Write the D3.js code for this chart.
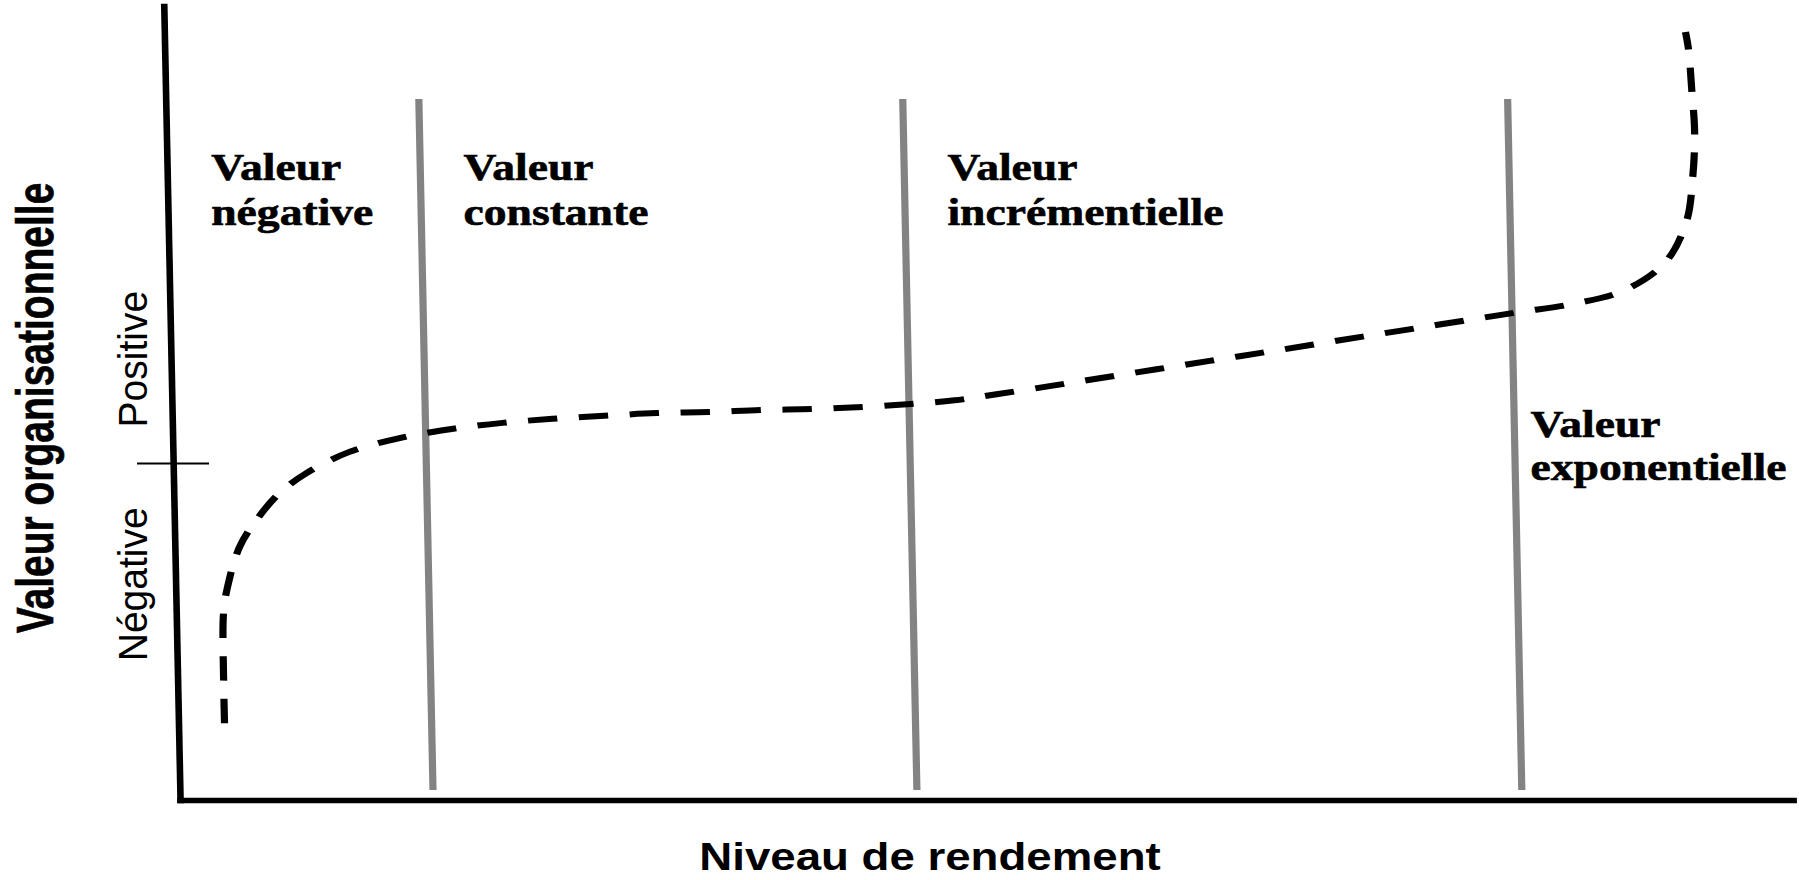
<!DOCTYPE html>
<html>
<head>
<meta charset="utf-8">
<script src="https://cdn.jsdelivr.net/npm/d3@7"></script>
<style>
  body { margin: 0; background: #fff; }
  svg { display: block; }
</style>
</head>
<body>
<div id="chart"></div>
<script>
// Courbe : niveau de rendement (0-100) vs valeur organisationnelle (0 = seuil)
var perf = [2.86, 2.86, 2.94, 3.22, 4.02, 5.10, 6.57, 8.26, 10.95, 14.07, 17.31, 20.48, 23.58, 26.81,
  30.04, 33.27, 36.49, 39.71, 42.88, 45.80, 48.53, 51.14, 54.44, 57.74, 61.09, 64.39, 67.49, 70.67,
  73.91, 77.01, 80.43, 83.67, 86.97, 90.08, 92.72, 94.12, 94.57, 94.75, 94.62, 94.48, 94.31];
var valeur = [-77.2, -64.4, -44.5, -36.8, -24.9, -16.9, -8.9, -3.0, 3.3, 7.4, 10.1, 11.9, 13.1, 14.0,
  14.8, 15.1, 15.7, 16.0, 16.6, 17.5, 18.6, 20.4, 22.8, 25.3, 27.8, 30.3, 32.6, 35.0,
  37.5, 39.8, 42.4, 44.8, 47.2, 51.0, 59.3, 71.5, 84.6, 97.9, 111.3, 122.6, 127.9];

// zones separated by the grey lines
var zoneStarts = [0, 15.7, 45.7, 83.2];
var boundaries = [15.7, 45.7, 83.2];
var zoneNames = [["Valeur", "négative"], ["Valeur", "constante"], ["Valeur", "incrémentielle"], ["Valeur", "exponentielle"]];
var yLabels = ["Négative", "Positive"];

var svgWidth = 1799;
var svgHeight = 880;

// the picture is a bit stretched sideways and leans a little to the right
var stretch = 1.2;
var lean = 0.01708;

var svg = d3.select("#chart")
  .append("svg")
  .attr("width", svgWidth)
  .attr("height", svgHeight);

var xScale = d3.scaleLinear()
  .domain([0, 100])
  .range([136.3, 1480.5]);

var yScale = d3.scaleLinear()
  .domain([-100, 135.6])
  .range([800, 6]);

function pageX(d, y) {
  return stretch * (xScale(d) + lean * y);
}

var plot = svg.append("g")
  .attr("transform", `scale(${stretch},1) skewX(${Math.atan(lean) * 180 / Math.PI})`);

// grey separators
plot.selectAll("line.sep")
  .data(boundaries)
  .enter()
  .append("line")
  .attr("class", "sep")
  .attr("x1", d => xScale(d))
  .attr("x2", d => xScale(d))
  .attr("y1", yScale(108))
  .attr("y2", yScale(-97))
  .attr("stroke", "#838383")
  .attr("stroke-width", 6);

// axes
var bottomAxis = d3.axisBottom(xScale).tickValues([]).tickSizeOuter(0);
var leftAxis = d3.axisLeft(yScale).tickValues([0]).tickSize(30).tickSizeOuter(0).tickFormat("");

var gx = plot.append("g")
  .attr("transform", `translate(0, ${yScale(-100)})`)
  .call(bottomAxis);
gx.select(".domain").attr("stroke", "#000").attr("stroke-width", 5.5).attr("stroke-linecap", "square");

var gy = plot.append("g")
  .attr("transform", `translate(${xScale(0)}, 0)`)
  .call(leftAxis);
gy.select(".domain").attr("stroke", "#000").attr("stroke-width", 5.5).attr("stroke-linecap", "square");
gy.selectAll(".tick line").attr("x1", -30).attr("x2", 30).attr("stroke", "#000").attr("stroke-width", 2);

// dashed curve
var points = perf.map((p, i) => [p, valeur[i]]);
var line = d3.line()
  .x(d => xScale(d[0]))
  .y(d => yScale(d[1]))
  .curve(d3.curveCatmullRom.alpha(0.5));

plot.append("path")
  .datum(points)
  .attr("d", line)
  .attr("fill", "none")
  .attr("stroke", "#000")
  .attr("stroke-width", 6)
  .attr("stroke-dasharray", "24.5,18");

// zone labels
var labelY = [180, 180, 180, 437];
var labelPad = [44, 43, 43, 16];
var labelGap = [45, 45, 45, 43];

zoneNames.forEach(function(name, i) {
  var x = pageX(zoneStarts[i], labelY[i]) + labelPad[i];
  name.forEach(function(word, j) {
    svg.append("text")
      .attr("transform", `translate(${x}, ${labelY[i] + j * labelGap[i]}) scale(${stretch},1)`)
      .attr("font-family", "'Liberation Serif', 'Times New Roman', serif")
      .attr("font-weight", "bold")
      .attr("font-size", "38px")
      .attr("fill", "#000")
      .attr("stroke", "#000")
      .attr("stroke-width", 0.6)
      .text(word);
  });
});

// axis titles
svg.append("text")
  .attr("transform", `translate(930, 870) scale(1.17,1)`)
  .attr("text-anchor", "middle")
  .attr("font-family", "'Liberation Sans', Arial, sans-serif")
  .attr("font-weight", "bold")
  .attr("font-size", "39px")
  .text("Niveau de rendement");

svg.append("text")
  .attr("transform", `translate(53, 408) rotate(-90) scale(1,1.33)`)
  .attr("text-anchor", "middle")
  .attr("font-family", "'Liberation Sans', Arial, sans-serif")
  .attr("font-weight", "bold")
  .attr("font-size", "39px")
  .attr("stroke", "#000")
  .attr("stroke-width", 0.5)
  .text("Valeur organisationnelle");

var sideY = [yScale(-36), yScale(30.8)];
yLabels.forEach(function(lab, i) {
  svg.append("text")
    .attr("transform", `translate(147, ${sideY[i]}) rotate(-90) scale(1,1.05)`)
    .attr("text-anchor", "middle")
    .attr("font-family", "'Liberation Sans', Arial, sans-serif")
    .attr("font-size", "39px")
    .text(lab);
});
</script>
</body>
</html>
